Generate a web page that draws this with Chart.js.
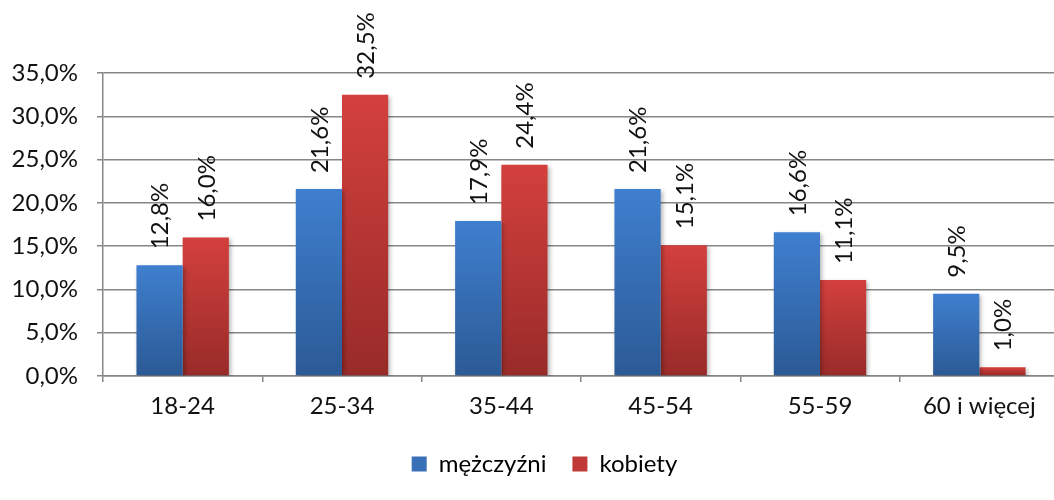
<!DOCTYPE html>
<html>
<head>
<meta charset="utf-8">
<script src="https://cdn.jsdelivr.net/npm/chart.js@4"></script>
<style>
  html, body { margin: 0; padding: 0; background: #fff; overflow: hidden; }
  #wrap { width: 1062px; height: 500px; }
</style>
</head>
<body>
<div id="wrap"><canvas id="chart" width="1062" height="500"></canvas></div>
<script>
// ===== Dane =====
const kategorie = ['18-24', '25-34', '35-44', '45-54', '55-59', '60 i więcej'];
const mezczyzni = [12.8, 21.6, 17.9, 21.6, 16.6, 9.5];
const kobiety   = [16.0, 32.5, 24.4, 15.1, 11.1, 1.0];
const nazwySerii = ['mężczyźni', 'kobiety'];
const osY = { min: 0, max: 35, krok: 5 };

const FONT = 'Lato, "Open Sans", sans-serif';
const ROZM = 24;
const fmtPct = v => v.toFixed(1).replace('.', ',') + '%';

// gradient per słupek (jasny u góry, ciemny na dole)
function gradient(top, bottom) {
  return ctx => {
    const chart = ctx.chart;
    const y = chart.scales && chart.scales.y;
    if (!chart.chartArea || !y || ctx.parsed == null) return top;
    const yTop = y.getPixelForValue(ctx.parsed.y);
    const yBot = y.getPixelForValue(0);
    if (!isFinite(yTop) || yBot - yTop < 1) return top;
    const g = chart.ctx.createLinearGradient(0, yTop, 0, yBot);
    g.addColorStop(0, top);
    g.addColorStop(1, bottom);
    return g;
  };
}

// cień słupków jak w Excelu
const cien = {
  id: 'cien',
  beforeDatasetDraw(chart) {
    const c = chart.ctx;
    c.save();
    c.shadowColor = 'rgba(0,0,0,0.28)';
    c.shadowBlur = 4;
    c.shadowOffsetX = 2;
    c.shadowOffsetY = 2;
  },
  afterDatasetDraw(chart) { chart.ctx.restore(); }
};

// legenda: większy odstęp między pozycjami, niższa ramka, lekko w prawo
const legendaWys = {
  id: 'legendaWys',
  beforeInit(chart) {
    const lg = chart.legend;
    if (!lg) return;
    const fit = lg.fit;
    lg.fit = function () {
      fit.call(this);
      this.height = 74;
    };
  },
  afterLayout(chart) {
    const lg = chart.legend;
    if (!lg) return;
    lg.left += 15;
    lg.right += 15;
  }
};

// etykiety danych obrócone o 90°
const etykiety = {
  id: 'etykiety',
  afterDatasetsDraw(chart) {
    const c = chart.ctx;
    c.save();
    c.font = ROZM + 'px ' + FONT;
    c.fillStyle = '#111';
    c.textAlign = 'left';
    c.textBaseline = 'middle';
    chart.data.datasets.forEach((ds, i) => {
      chart.getDatasetMeta(i).data.forEach((bar, j) => {
        c.save();
        c.translate(bar.x + 1, bar.y - 16);
        c.rotate(-Math.PI / 2);
        c.fillText(fmtPct(ds.data[j]), 0, 0);
        c.restore();
      });
    });
    c.restore();
  }
};

new Chart(document.getElementById('chart'), {
  type: 'bar',
  data: {
    labels: kategorie,
    datasets: [
      {
        label: nazwySerii[0],
        data: mezczyzni,
        backgroundColor: gradient('#3f7fcf', '#2b5a95'),
        categoryPercentage: 0.58,
        barPercentage: 1
      },
      {
        label: nazwySerii[1],
        data: kobiety,
        backgroundColor: gradient('#d3403d', '#982b29'),
        categoryPercentage: 0.58,
        barPercentage: 1
      }
    ]
  },
  options: {
    responsive: false,
    animation: false,
    layout: { padding: { top: 73, right: 3, bottom: 0, left: 0 } },
    plugins: {
      tooltip: { enabled: false },
      legend: {
        position: 'bottom',
        labels: {
          font: { family: FONT, size: ROZM },
          color: '#111',
          boxWidth: 15,
          boxHeight: 15,
          padding: 26,
          generateLabels: chart => nazwySerii.map((n, i) => ({
            text: n,
            fillStyle: i === 0 ? '#3a70b8' : '#c03a38',
            strokeStyle: 'transparent',
            lineWidth: 0,
            datasetIndex: i
          }))
        }
      }
    },
    scales: {
      x: {
        grid: {
          drawOnChartArea: false,
          drawTicks: true,
          tickLength: 6,
          color: '#868686',
          lineWidth: 1.5
        },
        border: { color: '#868686', width: 1.5 },
        ticks: {
          font: { family: FONT, size: ROZM },
          color: '#111',
          padding: 10
        },
        afterFit: s => { s.height = 50; }
      },
      y: {
        min: osY.min,
        max: osY.max,
        ticks: {
          stepSize: osY.krok,
          font: { family: FONT, size: ROZM },
          color: '#111',
          padding: 19,
          callback: v => fmtPct(v)
        },
        grid: { color: '#868686', lineWidth: 1.5, tickLength: 6 },
        border: { color: '#868686', width: 1.5 },
        afterFit: s => { s.width = 103; }
      }
    }
  },
  plugins: [cien, legendaWys, etykiety]
});
</script>
</body>
</html>
